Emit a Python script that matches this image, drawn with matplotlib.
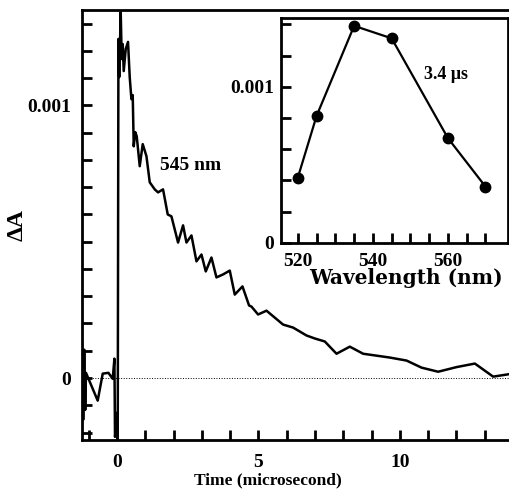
import numpy as np
import matplotlib.pyplot as plt

plt.rcParams['font.family'] = 'Liberation Serif'
plt.rcParams['font.weight'] = 'bold'

# transient absorption trace at 545 nm (time in microseconds, dA in units of 1e-3)
time = [-1.24, -1.196, -1.16, -1.125, -1.097, -0.683, -0.506, -0.304, -0.152,
        -0.092, -0.071, 0.0, 0.025, 0.05, 0.078, 0.131, 0.166, 0.202, 0.237,
        0.308, 0.389, 0.449, 0.509, 0.555, 0.591, 0.644, 0.697, 0.803, 0.909,
        1.04, 1.157, 1.334, 1.45, 1.627, 1.687, 1.793, 1.924, 2.158, 2.335,
        2.455, 2.632, 2.809, 2.986, 3.138, 3.339, 3.516, 3.75, 3.987, 4.163,
        4.436, 4.669, 4.754, 4.988, 5.285, 5.872, 6.226, 6.7, 6.993, 7.347,
        7.761, 8.231, 8.702, 9.176, 9.646, 10.237, 10.768, 11.355, 12.006,
        12.653, 13.3, 13.86]
dA = [0.130, -0.153, 0.104, -0.117, 0.019, -0.083, 0.016, 0.019, -0.003,
      0.071, -0.216, -0.128, -0.227, 1.244, 1.104, 1.343, 1.170, 1.225, 1.126,
      1.207, 1.233, 1.104, 1.023, 1.038, 0.850, 0.902, 0.887, 0.777, 0.858,
      0.814, 0.718, 0.692, 0.681, 0.692, 0.659, 0.600, 0.593, 0.497, 0.560,
      0.497, 0.523, 0.428, 0.453, 0.391, 0.442, 0.369, 0.380, 0.394, 0.306,
      0.336, 0.266, 0.262, 0.233, 0.247, 0.196, 0.185, 0.156, 0.145, 0.134,
      0.089, 0.115, 0.089, 0.082, 0.075, 0.064, 0.038, 0.023, 0.040,
      0.053, 0.005, 0.014]

# spectrum at 3.4 us
wavelength = [520, 525, 535, 545, 560, 570]
spectrum = [0.419, 0.814, 1.39, 1.31, 0.671, 0.361]

time = np.array(time)
dA = np.array(dA) * 1e-3
spectrum = np.array(spectrum) * 1e-3

fig = plt.figure(figsize=(5.09, 5.01), dpi=100)

###############################################################################
# main panel
ax = fig.add_axes([0.161, 0.122, 0.839, 0.858])
ax.plot(time, dA, '-k', lw=1.8)
ax.axhline(0, color='k', ls=':', lw=0.7)
ax.set_xlim(-1.24, 13.86)
ax.set_ylim(-0.000227, 0.00135)
ax.set_xticks([0, 5, 10])
ax.set_xticklabels(['0', '5', '10'])
ax.set_xticks(np.arange(-1, 14, 1), minor=True)
ax.set_yticks([0, 0.001])
ax.set_yticklabels(['0', '0.001'])
ax.set_yticks(np.arange(-0.0002, 0.00135, 0.0001), minor=True)
ax.tick_params(which='both', direction='in', length=7, width=2, labelsize=14)
ax.tick_params(axis='x', pad=10)
ax.tick_params(axis='y', pad=8)
for s in ['left', 'bottom', 'top']:
    ax.spines[s].set_linewidth(2)
ax.spines['right'].set_visible(False)
ax.set_xlabel('Time (microsecond)', fontsize=12.5, fontweight='bold', va='center')
ax.xaxis.set_label_coords(0.436, -0.095)
ax.set_ylabel('\u0394A', fontsize=17, fontweight='bold', va='center')
ax.yaxis.set_label_coords(-0.152, 0.5)
ax.text(1.51, 0.00078, '545 nm', fontsize=14, fontweight='bold', va='center')

###############################################################################
# inset spectrum
ins = fig.add_axes([0.552, 0.515, 0.446, 0.449])
ins.plot(wavelength, spectrum, '-ok', lw=1.6, ms=7.5)
ins.set_xlim(515.5, 576)
ins.set_ylim(0, 0.00144)
ins.set_xticks([520, 540, 560])
ins.set_xticks(np.arange(520, 575, 5), minor=True)
ins.set_yticks([0, 0.001])
ins.set_yticklabels(['0', '0.001'])
ins.set_yticks(np.arange(0, 0.00145, 0.0002), minor=True)
ins.tick_params(which='both', direction='in', length=7, width=2, labelsize=14)
ins.tick_params(axis='x', pad=7)
ins.tick_params(axis='y', pad=5)
for s in ins.spines.values():
    s.set_linewidth(2)
ins.set_xlabel('Wavelength (nm)', fontsize=14.5, fontweight='bold',
               family='DejaVu Serif', va='top')
ins.xaxis.set_label_coords(0.55, -0.112)
ins.text(553.5, 0.00108, '3.4 \u03bcs', fontsize=13, fontweight='bold', va='center')

plt.savefig('out.png', dpi=100)
